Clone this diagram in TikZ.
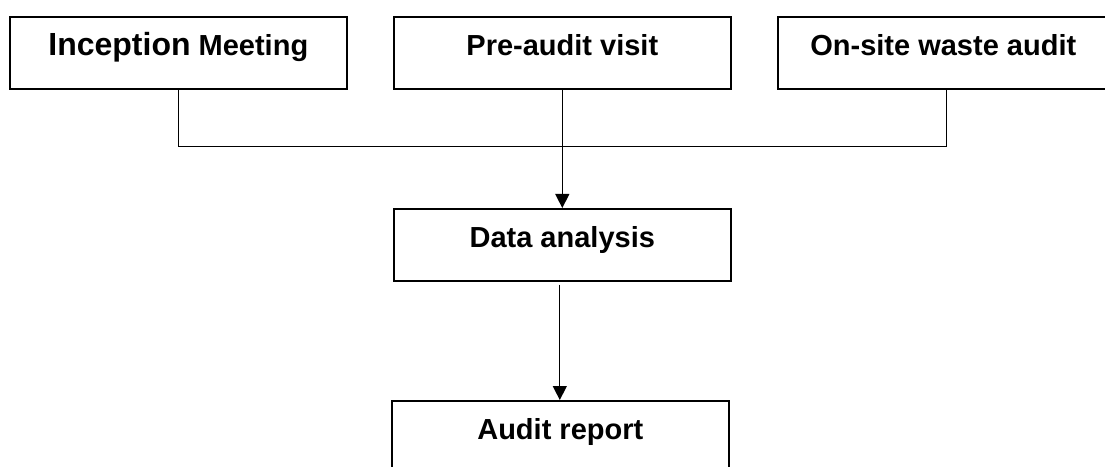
\documentclass[tikz,border=0pt]{standalone}
\usepackage{fontspec}
\setmainfont{Liberation Sans}
\usetikzlibrary{arrows.meta}
\begin{document}
\begin{tikzpicture}[x=1pt,y=1pt,
  box/.style={draw=black, line width=1.6pt, rectangle, inner sep=0pt, anchor=north west,
    minimum width=337pt, text height=39pt, text depth=33pt, font=\bfseries\fontsize{29}{30}\selectfont},
  conn/.style={draw=black, line width=1.3pt},
  arr/.style={conn, -{Triangle[width=14pt,length=14pt]}}]
\useasboundingbox (0,0) rectangle (1105,466);
\node[box] (b1) at (9,450) {{\fontsize{32}{34}\selectfont Inception} Meeting};
\node[box] (b2) at (393,450) {Pre-audit visit};
\node[box, minimum width=331pt] (b3) at (777,450) {On-site waste audit};
\node[box] (da) at (393,258) {Data analysis};
\node[box] (ar) at (391,66) {Audit report};
\draw[conn] (b1.south) -- ++(0,-57) -| ([xshift=3.5pt]b3.south);
\draw[arr] (b2.south) -- (da.north);
\draw[arr] ([xshift=-2.5pt,yshift=-3pt]da.south) -- ([xshift=-0.5pt]ar.north);
\end{tikzpicture}
\end{document}
